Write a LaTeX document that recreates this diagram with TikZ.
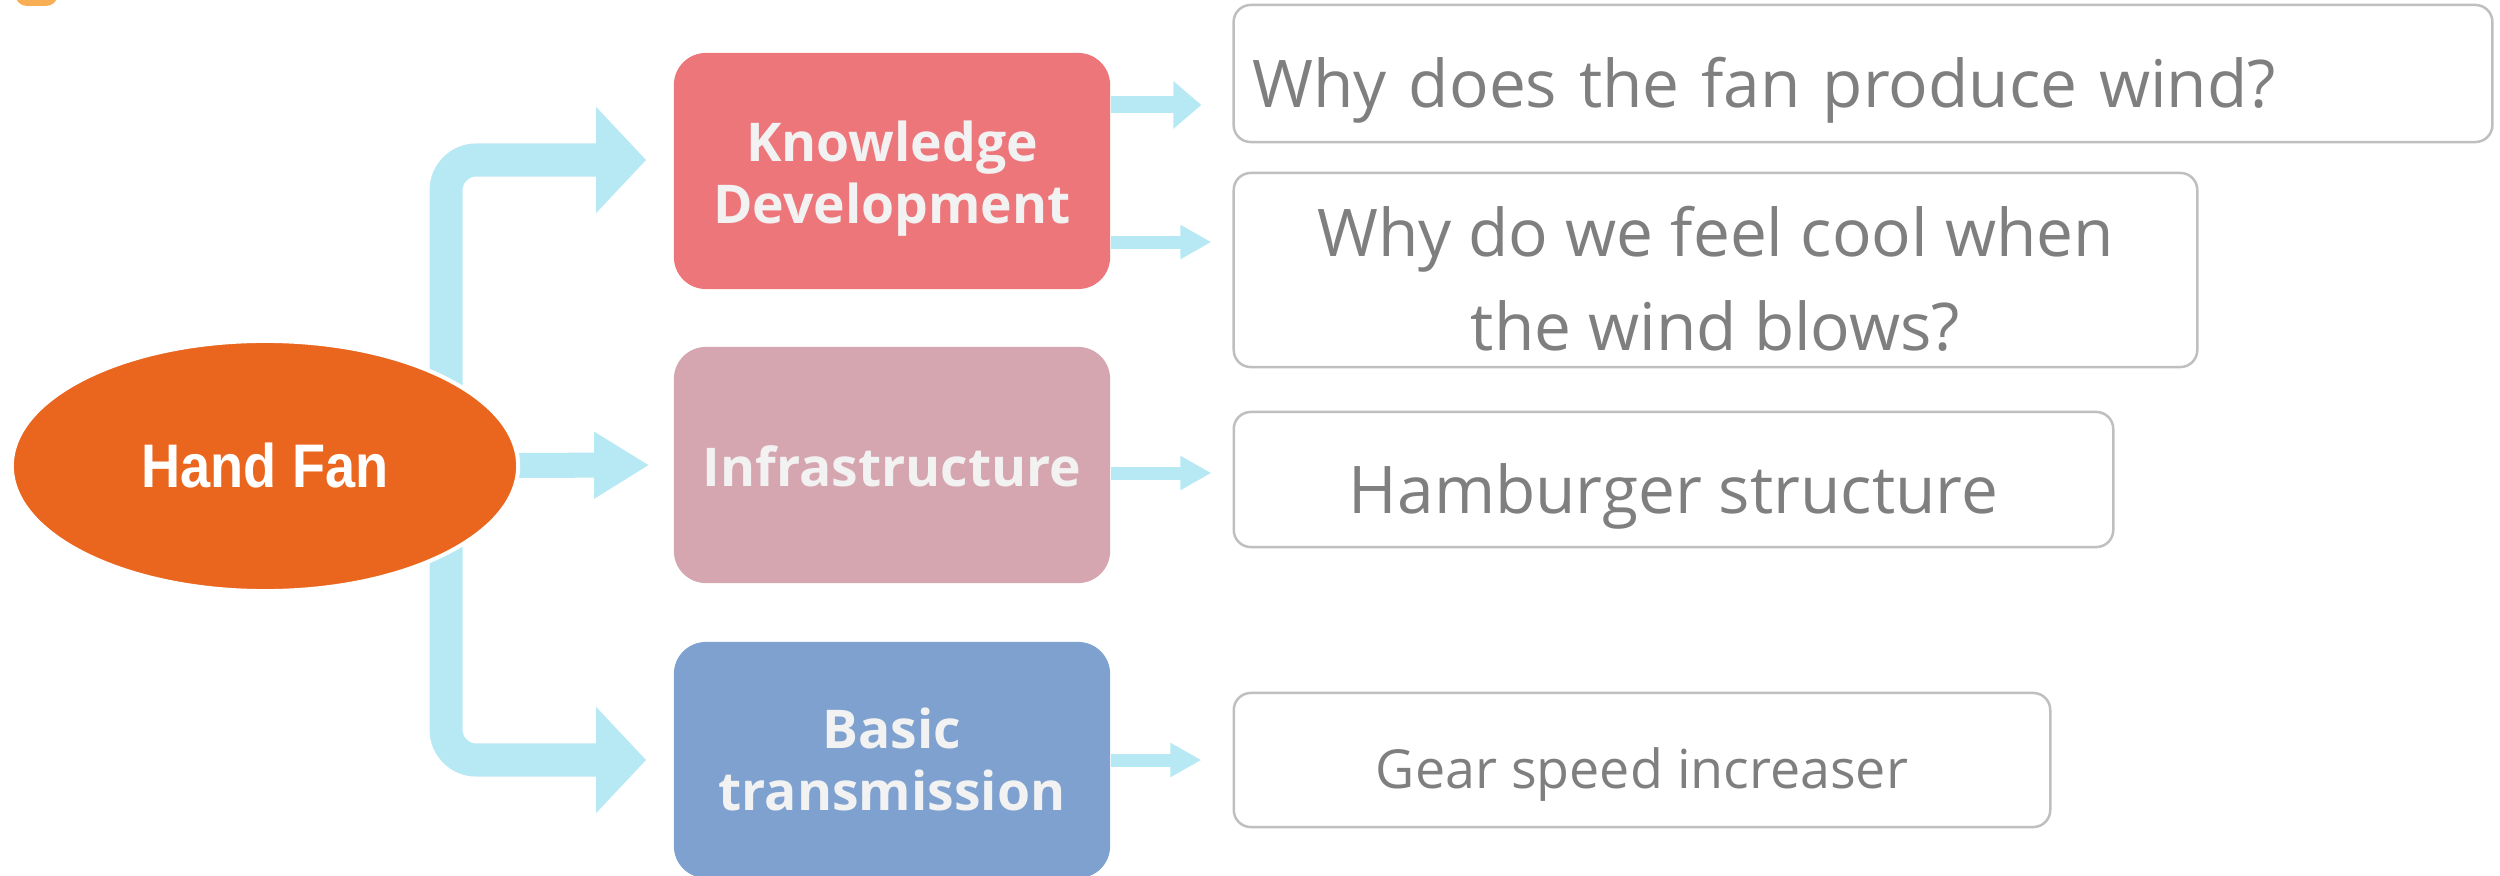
\documentclass[tikz,border=0pt]{standalone}
\usepackage{fontspec}
\setmainfont{Open Sans}
\newfontfamily\fanfont[FakeStretch=0.88]{Liberation Sans}
\usepackage{tikz}
\usetikzlibrary{arrows.meta, positioning, shapes.geometric, backgrounds}
\definecolor{fanorange}{RGB}{234,102,31}
\definecolor{knowred}{RGB}{237,118,123}
\definecolor{infrapink}{RGB}{213,166,176}
\definecolor{basicblue}{RGB}{127,161,207}
\definecolor{arrowblue}{RGB}{182,233,243}
\definecolor{qborder}{RGB}{191,191,191}
\definecolor{qtext}{RGB}{127,127,127}
\definecolor{labelgray}{RGB}{242,242,242}
\definecolor{tabcolor}{RGB}{247,174,85}

\begin{document}
\begin{tikzpicture}[x=0.01cm, y=-0.01cm,
        topic/.style={rounded corners=0.32cm, minimum width=4.36cm, minimum height=2.36cm,
                      inner sep=0pt, align=center, text=labelgray,
                      font=\fontsize{15.2}{17.6}\selectfont\bfseries},
        qbox/.style={draw=qborder, line width=0.025cm, fill=white, rounded corners=0.17cm,
                     inner sep=0pt, text=qtext, font=\fontsize{18.7}{26.5}\selectfont,
                     text height=0.8cm, text depth=0.13cm},
        bigarr/.style={draw=arrowblue, line width=0.33cm, rounded corners=0.3cm,
                       -{Triangle[length=0.5cm, width=1.03cm]}, shorten >=0.27cm},
        smallarr/.style={draw=arrowblue, line width=0.13cm,
                         -{Triangle[length=0.31cm, width=0.32cm]}, shorten >=0.21cm},
    ]
    \useasboundingbox (0,0) rectangle (2500,876);
    \fill[tabcolor, rounded corners=0.12cm] (15,-40) rectangle (58,6);

    \node[ellipse, fill=fanorange, draw=white, line width=0.04cm, minimum width=5.06cm,
          minimum height=2.5cm, inner sep=0pt, text=white,
          font=\fanfont\bfseries\fontsize{17.5}{20}\selectfont,
          text height=0.5cm, text depth=0.08cm] (fan) at (265, 466) {Hand Fan};

    \node[topic, fill=knowred, text height=1.2cm, text depth=0.16cm] (know) at (892, 171)
        {Knowledge\\Development};
    \node[topic, fill=infrapink, text height=0.58cm, text depth=0.16cm] (infra) at (892, 465)
        {Infrastructure};
    \node[topic, fill=basicblue, text height=1.17cm, text depth=0.16cm] (basic) at (892, 760)
        {Basic\\transmission};

    \node[qbox, minimum width=12.58cm, minimum height=1.37cm, text width=12.2cm, align=left]
        (q1) at (1863, 73.5) {Why does the fan produce wind?};
    \node[qbox, minimum width=9.63cm, minimum height=1.94cm, align=center,
          text height=1.75cm, text depth=0.15cm]
        (q2) at (1715.5, 270) {Why do we feel cool when\\the wind blows?};
    \node[qbox, minimum width=8.79cm, minimum height=1.35cm]
        (q3) at (1673.5, 479.5) {Hamburger structure};
    \node[qbox, minimum width=8.16cm, minimum height=1.34cm, font=\fontsize{15.3}{20}\selectfont,
          text height=0.7cm, text depth=0.14cm]
        (q4) at (1642, 760) {Gear speed increaser};

    \coordinate (k1) at ([yshift=0.66cm]know.east);
    \coordinate (k2) at ([yshift=-0.71cm]know.east);
    \coordinate (i1) at ([yshift=-0.08cm]infra.east);

    \begin{scope}[on background layer]
        \draw[bigarr] ([xshift=1.81cm]fan.center) |- ([yshift=0.11cm]know.west);
        \draw[bigarr, line width=0.25cm, -{Triangle[length=0.55cm, width=0.63cm]},
              shorten >=0.24cm] (fan.center) -- (infra.west);
        \draw[bigarr] ([xshift=1.81cm]fan.center) |- (basic.west);

        \draw[smallarr, line width=0.17cm, -{Triangle[length=0.28cm, width=0.46cm]},
              shorten >=0.31cm] (k1) -- (k1 -| q1.west);
        \draw[smallarr] (k2) -- (k2 -| q2.west);
        \draw[smallarr] (i1) -- (i1 -| q3.west);
        \draw[smallarr, shorten >=0.31cm] (basic.east) -- (q4.west);
    \end{scope}
\end{tikzpicture}
\end{document}
